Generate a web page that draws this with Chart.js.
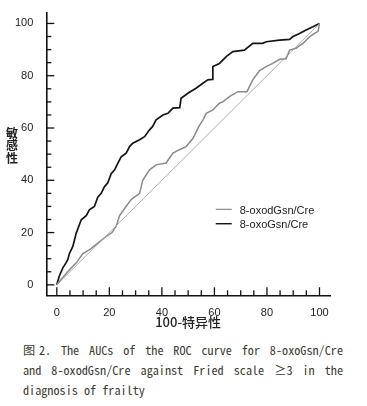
<!DOCTYPE html>
<html>
<head>
<meta charset="utf-8">
<script src="https://cdn.jsdelivr.net/npm/chart.js@4.4.0/dist/chart.umd.min.js"></script>
<style>
  html, body { margin: 0; padding: 0; background: #fff; }
  #wrap { position: relative; width: 367px; height: 332px; }
  #caption {
    margin: 8px 0 0 23px;
    width: 320px;
    font-family: "Noto Sans Mono CJK KR", "Noto Sans CJK KR", "Noto Sans", sans-serif;
    font-size: 12.2px;
    line-height: 20px;
    color: #3c3c34;
  }
  #caption .j { text-align: justify; text-align-last: justify; white-space: nowrap; }
</style>
</head>
<body>
<div id="wrap"><canvas id="roc" width="367" height="332"></canvas></div>
<div id="caption">
  <div class="j">图2. The AUCs of the ROC curve for 8-oxoGsn/Cre</div>
  <div class="j">and 8-oxodGsn/Cre against Fried scale ≥3 in the</div>
  <div>diagnosis of frailty</div>
</div>
<script>
// ROC curve points (x = 100-specificity, y = sensitivity)
const oxoX = [0, 0.4, 1, 2.3, 3.5, 4.2, 4.8, 6.1, 7.4, 9.3, 11.2, 12.4, 14.3, 15.6, 16.9, 18.1, 19.4, 20.7, 22, 23.2, 24.5, 26.4, 27.7, 28.9, 31.5, 33.4, 35.3, 36.5, 37.8, 40.4, 42.3, 44.2, 46.8, 47.3, 49.9, 53, 55.6, 57.5, 59.2, 59.4, 61.9, 64.5, 67, 71.4, 74.6, 78.4, 79.7, 84.8, 88.6, 89.8, 92.4, 94.9, 97.5, 100];
const oxoY = [0, 1.5, 3.5, 6.5, 8.4, 9.7, 12, 14.7, 19.8, 24.9, 26.5, 28.7, 30, 33.5, 35, 37.5, 39, 42.5, 44, 46.5, 49, 50.4, 52.9, 54.2, 55.5, 56.7, 59.3, 60.6, 63.1, 65, 65.6, 67.6, 67.8, 71.4, 73.3, 75.2, 77.1, 78.4, 78.6, 83.5, 84.7, 87.3, 89.2, 89.8, 92.4, 92.4, 93, 93.6, 93.9, 94.9, 96.2, 97.5, 98.7, 100];

const oxodX = [0, 2, 5, 7.5, 9.9, 12.5, 15, 18.8, 21, 22.6, 23.9, 26, 28.3, 31.5, 32.7, 35.3, 37.8, 41.6, 44.2, 46.7, 49.2, 51.8, 54.3, 55.6, 56.9, 59.4, 61.9, 63.2, 65.7, 68.9, 72.4, 74.6, 77.2, 79.7, 82.2, 84.8, 87.3, 88.6, 91.1, 92.4, 93.7, 94.9, 96.2, 98.1, 99.5, 100];
const oxodY = [0, 2.5, 6, 8.5, 12, 13.5, 15.5, 18.5, 20, 22.4, 26.5, 29.5, 32.6, 35, 40, 44, 45.9, 46.6, 50.4, 51.7, 52.9, 56, 61, 63, 65.6, 66.9, 69.5, 70, 72, 73.9, 73.9, 78.4, 82, 83.5, 84.7, 86.3, 86.5, 89.8, 90.5, 91.5, 92.4, 93.6, 94.9, 96.2, 97, 100];

const refX = [0, 100];
const refY = [0, 100];

const tickValues = [0, 20, 40, 60, 80, 100];
const seriesLabels = ['8-oxodGsn/Cre', '8-oxoGsn/Cre'];
const xTitle = '100-特异性';
const yTitle = ['敏', '感', '性'];

const toPoints = (xs, ys) => xs.map((x, i) => ({ x: x, y: ys[i] }));

const GRAY = '#8a8a8a';
const BLACK = '#151515';
const labelFont = '"Liberation Sans", Arial, sans-serif';

// inward ticks every 5 units, y title stacked, legend inside the plot
const decorPlugin = {
  id: 'decor',
  afterDraw(chart) {
    const ctx = chart.ctx;
    const xs = chart.scales.x, ys = chart.scales.y;
    const area = chart.chartArea;
    ctx.save();
    ctx.strokeStyle = '#111';
    ctx.lineWidth = 1.3;
    for (let v = 0; v <= 100; v += 5) {
      const len = v % 20 === 0 ? 8 : 5;
      const px = xs.getPixelForValue(v);
      ctx.beginPath();
      ctx.moveTo(px, area.bottom);
      ctx.lineTo(px, area.bottom - len);
      ctx.stroke();
      const py = ys.getPixelForValue(v);
      ctx.beginPath();
      ctx.moveTo(area.left, py);
      ctx.lineTo(area.left + len, py);
      ctx.stroke();
    }

    // y title, characters stacked
    ctx.fillStyle = '#222';
    ctx.font = 'bold 12px "Noto Sans CJK SC", sans-serif';
    ctx.textAlign = 'center';
    ctx.textBaseline = 'middle';
    yTitle.forEach((ch, i) => ctx.fillText(ch, 12, 133 + i * 12.5));

    // legend
    const lx = xs.getPixelForValue(60.5);
    const rows = [
      { label: seriesLabels[0], color: GRAY, width: 1.2, y: ys.getPixelForValue(28.5) },
      { label: seriesLabels[1], color: BLACK, width: 1.4, y: ys.getPixelForValue(23) }
    ];
    ctx.font = '11px ' + labelFont;
    ctx.textAlign = 'left';
    rows.forEach(r => {
      ctx.strokeStyle = r.color;
      ctx.lineWidth = r.width;
      ctx.beginPath();
      ctx.moveTo(lx, r.y - 1);
      ctx.lineTo(lx + 16, r.y - 1);
      ctx.stroke();
      ctx.fillStyle = '#222';
      ctx.fillText(r.label, lx + 24, r.y + 0.5);
    });
    ctx.restore();
  }
};

const commonAxis = {
  type: 'linear',
  min: -4,
  max: 104,
  grid: { display: false },
  border: { display: true, color: '#111', width: 1.6 },
  afterBuildTicks: s => { s.ticks = tickValues.map(v => ({ value: v })); },
  ticks: { color: '#222', font: { family: labelFont, size: 11 } }
};

new Chart(document.getElementById('roc'), {
  type: 'scatter',
  data: {
    datasets: [
      {
        label: 'ref',
        data: toPoints(refX, refY),
        showLine: true,
        borderColor: '#9a9a9a',
        borderWidth: 0.8,
        pointRadius: 0
      },
      {
        label: seriesLabels[0],
        data: toPoints(oxodX, oxodY),
        showLine: true,
        borderColor: GRAY,
        borderWidth: 1.5,
        pointRadius: 0
      },
      {
        label: seriesLabels[1],
        data: toPoints(oxoX, oxoY),
        showLine: true,
        borderColor: BLACK,
        borderWidth: 1.7,
        pointRadius: 0
      }
    ]
  },
  options: {
    responsive: false,
    animation: false,
    layout: { padding: { left: 0, right: 37, top: 13, bottom: 0 } },
    plugins: { legend: { display: false }, tooltip: { enabled: false } },
    scales: {
      x: {
        ...commonAxis,
        afterFit: s => { s.height = 36.7; },
        ticks: { ...commonAxis.ticks, padding: 3 },
        title: {
          display: true,
          text: xTitle,
          color: '#222',
          font: { family: '"Noto Sans CJK SC", sans-serif', size: 13, weight: '500' },
          padding: { top: 0, bottom: 2 }
        }
      },
      y: {
        ...commonAxis,
        afterFit: s => { s.width = 46.3; },
        ticks: { ...commonAxis.ticks, padding: 5 }
      }
    }
  },
  plugins: [decorPlugin]
});
</script>
</body>
</html>
